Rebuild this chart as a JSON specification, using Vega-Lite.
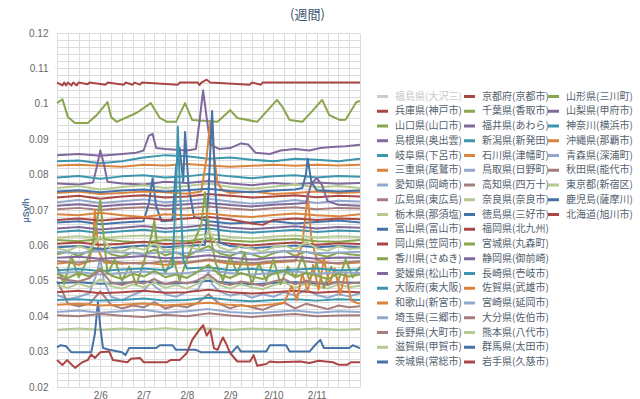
{
"$schema":"https://vega.github.io/schema/vega-lite/v6.json",
"width":303,"height":354,
"autosize":"none",
"padding":{"left":57,"top":33,"right":280,"bottom":12},
"background":"white",
"title":{"text":"(週間)","font":"Noto Sans CJK JP","fontSize":13,"fontWeight":"normal","color":"#3E576F","anchor":"middle","frame":"group","dx":99,"offset":6},
"config":{"view":{"stroke":null},"legend":{"orient":"none","symbolType":"stroke","symbolSize":122,"symbolStrokeWidth":3,"labelFont":"Noto Sans CJK JP","labelFontSize":10,"labelColor":"#55626f","labelOffset":5,"rowPadding":0.75,"labelLimit":300}},
"datasets":{
"names":[{"k":0,"s":"福島県(大沢三)"},{"k":1,"s":"兵庫県(神戸市)"},{"k":2,"s":"山口県(山口市)"},{"k":3,"s":"島根県(奥出雲)"},{"k":4,"s":"岐阜県(下呂市)"},{"k":5,"s":"三重県(尾鷲市)"},{"k":6,"s":"愛知県(岡崎市)"},{"k":7,"s":"広島県(東広島)"},{"k":8,"s":"栃木県(那須塩)"},{"k":9,"s":"富山県(富山市)"},{"k":10,"s":"岡山県(笠岡市)"},{"k":11,"s":"香川県(さぬき)"},{"k":12,"s":"愛媛県(松山市)"},{"k":13,"s":"大阪府(東大阪)"},{"k":14,"s":"和歌山(新宮市)"},{"k":15,"s":"埼玉県(三郷市)"},{"k":16,"s":"長野県(大町市)"},{"k":17,"s":"滋賀県(甲賀市)"},{"k":18,"s":"茨城県(常総市)"},{"k":19,"s":"京都府(京都市)"},{"k":20,"s":"千葉県(香取市)"},{"k":21,"s":"福井県(あわら)"},{"k":22,"s":"新潟県(新発田)"},{"k":23,"s":"石川県(津幡町)"},{"k":24,"s":"鳥取県(日野町)"},{"k":25,"s":"高知県(四万十)"},{"k":26,"s":"奈良県(奈良市)"},{"k":27,"s":"徳島県(三好市)"},{"k":28,"s":"福岡県(北九州)"},{"k":29,"s":"宮城県(丸森町)"},{"k":30,"s":"静岡県(御前崎)"},{"k":31,"s":"長崎県(壱岐市)"},{"k":32,"s":"佐賀県(武雄市)"},{"k":33,"s":"宮崎県(延岡市)"},{"k":34,"s":"大分県(佐伯市)"},{"k":35,"s":"熊本県(八代市)"},{"k":36,"s":"群馬県(太田市)"},{"k":37,"s":"岩手県(久慈市)"},{"k":38,"s":"山形県(三川町)"},{"k":39,"s":"山梨県(甲府市)"},{"k":40,"s":"神奈川(横浜市)"},{"k":41,"s":"沖縄県(那覇市)"},{"k":42,"s":"青森県(深浦町)"},{"k":43,"s":"秋田県(能代市)"},{"k":44,"s":"東京都(新宿区)"},{"k":45,"s":"鹿児島(薩摩川)"},{"k":46,"s":"北海道(旭川市)"}],
"pts":[
{"k":10,"h":0,"v":0.106},{"k":10,"h":3,"v":0.1052},{"k":10,"h":4,"v":0.106},{"k":10,"h":5,"v":0.1052},{"k":10,"h":6,"v":0.106},{"k":10,"h":8,"v":0.1052},{"k":10,"h":9,"v":0.106},{"k":10,"h":11,"v":0.1052},{"k":10,"h":12,"v":0.106},{"k":10,"h":17,"v":0.1055},{"k":10,"h":18,"v":0.106},{"k":10,"h":27,"v":0.1054},{"k":10,"h":28,"v":0.106},{"k":10,"h":37,"v":0.1054},{"k":10,"h":38,"v":0.106},{"k":10,"h":42,"v":0.1054},{"k":10,"h":43,"v":0.106},{"k":10,"h":46,"v":0.1054},{"k":10,"h":47,"v":0.106},{"k":10,"h":67,"v":0.1054},{"k":10,"h":68,"v":0.106},{"k":10,"h":78,"v":0.106},{"k":10,"h":79,"v":0.1053},{"k":10,"h":80,"v":0.106},{"k":10,"h":83,"v":0.1068},{"k":10,"h":85,"v":0.106},{"k":10,"h":107,"v":0.1054},{"k":10,"h":108,"v":0.106},{"k":10,"h":113,"v":0.1054},{"k":10,"h":114,"v":0.106},{"k":10,"h":168,"v":0.106},
{"k":2,"h":0,"v":0.1002},{"k":2,"h":3,"v":0.1013},{"k":2,"h":6,"v":0.0963},{"k":2,"h":10,"v":0.0946},{"k":2,"h":17,"v":0.0946},{"k":2,"h":22,"v":0.0968},{"k":2,"h":28,"v":0.1005},{"k":2,"h":30,"v":0.0963},{"k":2,"h":33,"v":0.0949},{"k":2,"h":44,"v":0.0974},{"k":2,"h":52,"v":0.1002},{"k":2,"h":57,"v":0.096},{"k":2,"h":61,"v":0.0949},{"k":2,"h":66,"v":0.0949},{"k":2,"h":71,"v":0.1002},{"k":2,"h":75,"v":0.0954},{"k":2,"h":89,"v":0.0949},{"k":2,"h":96,"v":0.0982},{"k":2,"h":100,"v":0.096},{"k":2,"h":111,"v":0.0949},{"k":2,"h":122,"v":0.1011},{"k":2,"h":125,"v":0.0991},{"k":2,"h":129,"v":0.0954},{"k":2,"h":136,"v":0.0949},{"k":2,"h":142,"v":0.0982},{"k":2,"h":147,"v":0.1011},{"k":2,"h":151,"v":0.0968},{"k":2,"h":157,"v":0.0954},{"k":2,"h":160,"v":0.0955},{"k":2,"h":166,"v":0.1005},{"k":2,"h":168,"v":0.1008},
{"k":3,"h":0,"v":0.0855},{"k":3,"h":12,"v":0.0858},{"k":3,"h":24,"v":0.0853},{"k":3,"h":36,"v":0.0858},{"k":3,"h":44,"v":0.0862},{"k":3,"h":48,"v":0.0868},{"k":3,"h":51,"v":0.091},{"k":3,"h":53,"v":0.0915},{"k":3,"h":55,"v":0.0875},{"k":3,"h":60,"v":0.0872},{"k":3,"h":66,"v":0.087},{"k":3,"h":72,"v":0.0868},{"k":3,"h":77,"v":0.0872},{"k":3,"h":79,"v":0.095},{"k":3,"h":81,"v":0.1038},{"k":3,"h":83,"v":0.096},{"k":3,"h":85,"v":0.0885},{"k":3,"h":90,"v":0.0872},{"k":3,"h":96,"v":0.0875},{"k":3,"h":102,"v":0.0888},{"k":3,"h":106,"v":0.0885},{"k":3,"h":110,"v":0.0862},{"k":3,"h":118,"v":0.0858},{"k":3,"h":124,"v":0.0868},{"k":3,"h":132,"v":0.0872},{"k":3,"h":140,"v":0.0868},{"k":3,"h":146,"v":0.0875},{"k":3,"h":152,"v":0.0878},{"k":3,"h":160,"v":0.088},{"k":3,"h":168,"v":0.0884},
{"k":4,"h":0,"v":0.0838},{"k":4,"h":12,"v":0.084},{"k":4,"h":24,"v":0.0832},{"k":4,"h":36,"v":0.0838},{"k":4,"h":48,"v":0.0848},{"k":4,"h":60,"v":0.0855},{"k":4,"h":72,"v":0.0852},{"k":4,"h":84,"v":0.0845},{"k":4,"h":96,"v":0.0848},{"k":4,"h":108,"v":0.0842},{"k":4,"h":120,"v":0.0838},{"k":4,"h":132,"v":0.0845},{"k":4,"h":144,"v":0.0842},{"k":4,"h":156,"v":0.0838},{"k":4,"h":168,"v":0.0845},
{"k":5,"h":0,"v":0.0826},{"k":5,"h":12,"v":0.0828},{"k":5,"h":24,"v":0.0825},{"k":5,"h":36,"v":0.0822},{"k":5,"h":48,"v":0.0828},{"k":5,"h":60,"v":0.0826},{"k":5,"h":72,"v":0.083},{"k":5,"h":84,"v":0.0826},{"k":5,"h":96,"v":0.0822},{"k":5,"h":108,"v":0.0825},{"k":5,"h":120,"v":0.0828},{"k":5,"h":132,"v":0.0825},{"k":5,"h":144,"v":0.0828},{"k":5,"h":156,"v":0.0826},{"k":5,"h":168,"v":0.0828},
{"k":22,"h":0,"v":0.0792},{"k":22,"h":12,"v":0.0796},{"k":22,"h":24,"v":0.0788},{"k":22,"h":36,"v":0.0795},{"k":22,"h":48,"v":0.0798},{"k":22,"h":60,"v":0.0792},{"k":22,"h":72,"v":0.0795},{"k":22,"h":84,"v":0.0802},{"k":22,"h":96,"v":0.0795},{"k":22,"h":108,"v":0.079},{"k":22,"h":120,"v":0.0795},{"k":22,"h":132,"v":0.0798},{"k":22,"h":144,"v":0.0792},{"k":22,"h":156,"v":0.0796},{"k":22,"h":168,"v":0.0794},
{"k":12,"h":0,"v":0.0775},{"k":12,"h":12,"v":0.0772},{"k":12,"h":20,"v":0.0778},{"k":12,"h":22,"v":0.082},{"k":12,"h":24,"v":0.0868},{"k":12,"h":26,"v":0.083},{"k":12,"h":28,"v":0.078},{"k":12,"h":36,"v":0.0775},{"k":12,"h":48,"v":0.0772},{"k":12,"h":60,"v":0.078},{"k":12,"h":72,"v":0.0776},{"k":12,"h":84,"v":0.0782},{"k":12,"h":96,"v":0.0775},{"k":12,"h":108,"v":0.077},{"k":12,"h":120,"v":0.0776},{"k":12,"h":132,"v":0.0772},{"k":12,"h":144,"v":0.0778},{"k":12,"h":156,"v":0.0774},{"k":12,"h":168,"v":0.0776},
{"k":8,"h":0,"v":0.0762},{"k":8,"h":12,"v":0.0768},{"k":8,"h":24,"v":0.0758},{"k":8,"h":36,"v":0.0765},{"k":8,"h":48,"v":0.077},{"k":8,"h":60,"v":0.0762},{"k":8,"h":72,"v":0.0768},{"k":8,"h":84,"v":0.0775},{"k":8,"h":96,"v":0.0765},{"k":8,"h":108,"v":0.076},{"k":8,"h":120,"v":0.0766},{"k":8,"h":132,"v":0.0772},{"k":8,"h":144,"v":0.0764},{"k":8,"h":156,"v":0.0768},{"k":8,"h":168,"v":0.0762},
{"k":45,"h":0,"v":0.0752},{"k":45,"h":12,"v":0.0756},{"k":45,"h":24,"v":0.075},{"k":45,"h":36,"v":0.0755},{"k":45,"h":48,"v":0.0758},{"k":45,"h":60,"v":0.0752},{"k":45,"h":72,"v":0.0756},{"k":45,"h":84,"v":0.076},{"k":45,"h":96,"v":0.0754},{"k":45,"h":108,"v":0.075},{"k":45,"h":120,"v":0.0755},{"k":45,"h":132,"v":0.0758},{"k":45,"h":136,"v":0.0762},{"k":45,"h":138,"v":0.08},{"k":45,"h":139,"v":0.0845},{"k":45,"h":141,"v":0.078},{"k":45,"h":144,"v":0.0756},{"k":45,"h":156,"v":0.0752},{"k":45,"h":168,"v":0.0755},
{"k":23,"h":0,"v":0.0748},{"k":23,"h":12,"v":0.0752},{"k":23,"h":24,"v":0.0745},{"k":23,"h":36,"v":0.0748},{"k":23,"h":48,"v":0.0752},{"k":23,"h":60,"v":0.075},{"k":23,"h":72,"v":0.0746},{"k":23,"h":80,"v":0.0752},{"k":23,"h":83,"v":0.085},{"k":23,"h":85,"v":0.095},{"k":23,"h":87,"v":0.086},{"k":23,"h":89,"v":0.0775},{"k":23,"h":92,"v":0.0755},{"k":23,"h":96,"v":0.0748},{"k":23,"h":108,"v":0.0752},{"k":23,"h":120,"v":0.0745},{"k":23,"h":132,"v":0.0748},{"k":23,"h":144,"v":0.0752},{"k":23,"h":156,"v":0.0748},{"k":23,"h":168,"v":0.075},
{"k":1,"h":0,"v":0.0735},{"k":1,"h":12,"v":0.074},{"k":1,"h":24,"v":0.0732},{"k":1,"h":36,"v":0.0738},{"k":1,"h":48,"v":0.0742},{"k":1,"h":60,"v":0.0735},{"k":1,"h":72,"v":0.0738},{"k":1,"h":84,"v":0.0745},{"k":1,"h":96,"v":0.074},{"k":1,"h":108,"v":0.0735},{"k":1,"h":120,"v":0.0738},{"k":1,"h":132,"v":0.0742},{"k":1,"h":144,"v":0.0736},{"k":1,"h":156,"v":0.074},{"k":1,"h":168,"v":0.0738},
{"k":6,"h":0,"v":0.0722},{"k":6,"h":12,"v":0.0728},{"k":6,"h":24,"v":0.072},{"k":6,"h":36,"v":0.0725},{"k":6,"h":48,"v":0.073},{"k":6,"h":60,"v":0.0722},{"k":6,"h":72,"v":0.0726},{"k":6,"h":84,"v":0.0732},{"k":6,"h":96,"v":0.0724},{"k":6,"h":108,"v":0.0718},{"k":6,"h":120,"v":0.0722},{"k":6,"h":132,"v":0.0728},{"k":6,"h":144,"v":0.072},{"k":6,"h":156,"v":0.0726},{"k":6,"h":168,"v":0.0724},
{"k":21,"h":0,"v":0.0712},{"k":21,"h":12,"v":0.0716},{"k":21,"h":24,"v":0.071},{"k":21,"h":36,"v":0.0715},{"k":21,"h":48,"v":0.0718},{"k":21,"h":60,"v":0.0712},{"k":21,"h":72,"v":0.0716},{"k":21,"h":84,"v":0.072},{"k":21,"h":96,"v":0.0714},{"k":21,"h":108,"v":0.071},{"k":21,"h":120,"v":0.0715},{"k":21,"h":132,"v":0.0718},{"k":21,"h":138,"v":0.072},{"k":21,"h":141,"v":0.0775},{"k":21,"h":144,"v":0.079},{"k":21,"h":147,"v":0.077},{"k":21,"h":150,"v":0.0725},{"k":21,"h":156,"v":0.0715},{"k":21,"h":168,"v":0.0712},
{"k":7,"h":0,"v":0.0702},{"k":7,"h":12,"v":0.0706},{"k":7,"h":24,"v":0.07},{"k":7,"h":36,"v":0.0705},{"k":7,"h":48,"v":0.0708},{"k":7,"h":60,"v":0.0702},{"k":7,"h":72,"v":0.0705},{"k":7,"h":84,"v":0.071},{"k":7,"h":96,"v":0.0704},{"k":7,"h":108,"v":0.07},{"k":7,"h":120,"v":0.0705},{"k":7,"h":132,"v":0.0708},{"k":7,"h":144,"v":0.0702},{"k":7,"h":156,"v":0.0706},{"k":7,"h":168,"v":0.0704},
{"k":41,"h":0,"v":0.0688},{"k":41,"h":12,"v":0.0685},{"k":41,"h":24,"v":0.0692},{"k":41,"h":36,"v":0.0685},{"k":41,"h":48,"v":0.068},{"k":41,"h":60,"v":0.0688},{"k":41,"h":72,"v":0.0685},{"k":41,"h":84,"v":0.069},{"k":41,"h":96,"v":0.0684},{"k":41,"h":108,"v":0.068},{"k":41,"h":120,"v":0.0686},{"k":41,"h":132,"v":0.069},{"k":41,"h":144,"v":0.0685},{"k":41,"h":156,"v":0.0682},{"k":41,"h":168,"v":0.0688},
{"k":19,"h":0,"v":0.0672},{"k":19,"h":12,"v":0.0676},{"k":19,"h":24,"v":0.067},{"k":19,"h":36,"v":0.0675},{"k":19,"h":48,"v":0.0678},{"k":19,"h":60,"v":0.0672},{"k":19,"h":72,"v":0.0676},{"k":19,"h":84,"v":0.068},{"k":19,"h":96,"v":0.0674},{"k":19,"h":108,"v":0.0662},{"k":19,"h":114,"v":0.0658},{"k":19,"h":120,"v":0.0672},{"k":19,"h":132,"v":0.0676},{"k":19,"h":144,"v":0.0672},{"k":19,"h":156,"v":0.0676},{"k":19,"h":168,"v":0.0674},
{"k":9,"h":0,"v":0.0665},{"k":9,"h":12,"v":0.0668},{"k":9,"h":24,"v":0.066},{"k":9,"h":36,"v":0.0665},{"k":9,"h":48,"v":0.0668},{"k":9,"h":51,"v":0.072},{"k":9,"h":53,"v":0.079},{"k":9,"h":55,"v":0.071},{"k":9,"h":58,"v":0.0668},{"k":9,"h":64,"v":0.067},{"k":9,"h":66,"v":0.082},{"k":9,"h":68,"v":0.0875},{"k":9,"h":70,"v":0.078},{"k":9,"h":71,"v":0.092},{"k":9,"h":73,"v":0.0765},{"k":9,"h":76,"v":0.068},{"k":9,"h":84,"v":0.0668},{"k":9,"h":96,"v":0.0662},{"k":9,"h":108,"v":0.0665},{"k":9,"h":120,"v":0.0668},{"k":9,"h":132,"v":0.0662},{"k":9,"h":144,"v":0.0666},{"k":9,"h":156,"v":0.067},{"k":9,"h":168,"v":0.0665},
{"k":30,"h":0,"v":0.0648},{"k":30,"h":12,"v":0.0652},{"k":30,"h":24,"v":0.0645},{"k":30,"h":36,"v":0.065},{"k":30,"h":48,"v":0.0655},{"k":30,"h":60,"v":0.0648},{"k":30,"h":72,"v":0.0652},{"k":30,"h":84,"v":0.0658},{"k":30,"h":96,"v":0.065},{"k":30,"h":108,"v":0.0646},{"k":30,"h":120,"v":0.065},{"k":30,"h":132,"v":0.0654},{"k":30,"h":144,"v":0.0648},{"k":30,"h":156,"v":0.0652},{"k":30,"h":168,"v":0.065},
{"k":13,"h":0,"v":0.0638},{"k":13,"h":12,"v":0.0642},{"k":13,"h":24,"v":0.0635},{"k":13,"h":36,"v":0.064},{"k":13,"h":48,"v":0.0644},{"k":13,"h":60,"v":0.0638},{"k":13,"h":72,"v":0.0642},{"k":13,"h":84,"v":0.0648},{"k":13,"h":96,"v":0.064},{"k":13,"h":108,"v":0.0636},{"k":13,"h":120,"v":0.064},{"k":13,"h":132,"v":0.0644},{"k":13,"h":144,"v":0.0638},{"k":13,"h":156,"v":0.0642},{"k":13,"h":168,"v":0.064},
{"k":26,"h":0,"v":0.0622},{"k":26,"h":12,"v":0.0626},{"k":26,"h":24,"v":0.062},{"k":26,"h":36,"v":0.0625},{"k":26,"h":48,"v":0.0628},{"k":26,"h":60,"v":0.0622},{"k":26,"h":72,"v":0.0625},{"k":26,"h":84,"v":0.0632},{"k":26,"h":96,"v":0.0624},{"k":26,"h":108,"v":0.062},{"k":26,"h":120,"v":0.0625},{"k":26,"h":132,"v":0.0628},{"k":26,"h":144,"v":0.0622},{"k":26,"h":156,"v":0.0626},{"k":26,"h":168,"v":0.0624},
{"k":29,"h":0,"v":0.0615},{"k":29,"h":12,"v":0.0612},{"k":29,"h":24,"v":0.0618},{"k":29,"h":36,"v":0.0612},{"k":29,"h":48,"v":0.0608},{"k":29,"h":60,"v":0.0615},{"k":29,"h":72,"v":0.0612},{"k":29,"h":84,"v":0.062},{"k":29,"h":96,"v":0.0614},{"k":29,"h":108,"v":0.061},{"k":29,"h":120,"v":0.0615},{"k":29,"h":132,"v":0.0618},{"k":29,"h":144,"v":0.0612},{"k":29,"h":156,"v":0.061},{"k":29,"h":168,"v":0.0615},
{"k":28,"h":0,"v":0.0605},{"k":28,"h":12,"v":0.0608},{"k":28,"h":24,"v":0.0602},{"k":28,"h":36,"v":0.0605},{"k":28,"h":48,"v":0.061},{"k":28,"h":60,"v":0.0604},{"k":28,"h":72,"v":0.0606},{"k":28,"h":84,"v":0.0612},{"k":28,"h":96,"v":0.0605},{"k":28,"h":108,"v":0.06},{"k":28,"h":120,"v":0.0605},{"k":28,"h":132,"v":0.0608},{"k":28,"h":144,"v":0.0602},{"k":28,"h":156,"v":0.0606},{"k":28,"h":168,"v":0.0604},
{"k":27,"h":0,"v":0.0595},{"k":27,"h":12,"v":0.0598},{"k":27,"h":24,"v":0.059},{"k":27,"h":36,"v":0.0595},{"k":27,"h":48,"v":0.06},{"k":27,"h":60,"v":0.0595},{"k":27,"h":72,"v":0.0598},{"k":27,"h":82,"v":0.0602},{"k":27,"h":84,"v":0.075},{"k":27,"h":86,"v":0.098},{"k":27,"h":88,"v":0.074},{"k":27,"h":90,"v":0.0608},{"k":27,"h":96,"v":0.0598},{"k":27,"h":108,"v":0.0592},{"k":27,"h":120,"v":0.0596},{"k":27,"h":132,"v":0.06},{"k":27,"h":144,"v":0.0595},{"k":27,"h":156,"v":0.0598},{"k":27,"h":168,"v":0.0595},
{"k":44,"h":0,"v":0.0592},{"k":44,"h":6,"v":0.0585},{"k":44,"h":12,"v":0.0598},{"k":44,"h":18,"v":0.0588},{"k":44,"h":24,"v":0.0625},{"k":44,"h":30,"v":0.059},{"k":44,"h":36,"v":0.0582},{"k":44,"h":42,"v":0.0595},{"k":44,"h":48,"v":0.0588},{"k":44,"h":54,"v":0.0605},{"k":44,"h":60,"v":0.0585},{"k":44,"h":66,"v":0.0592},{"k":44,"h":72,"v":0.0598},{"k":44,"h":78,"v":0.0588},{"k":44,"h":84,"v":0.064},{"k":44,"h":90,"v":0.0595},{"k":44,"h":96,"v":0.0585},{"k":44,"h":102,"v":0.0598},{"k":44,"h":108,"v":0.059},{"k":44,"h":114,"v":0.0582},{"k":44,"h":120,"v":0.0595},{"k":44,"h":126,"v":0.06},{"k":44,"h":132,"v":0.0588},{"k":44,"h":138,"v":0.061},{"k":44,"h":144,"v":0.0592},{"k":44,"h":150,"v":0.0585},{"k":44,"h":156,"v":0.0598},{"k":44,"h":162,"v":0.059},{"k":44,"h":168,"v":0.0592},
{"k":24,"h":0,"v":0.0582},{"k":24,"h":12,"v":0.0578},{"k":24,"h":24,"v":0.0585},{"k":24,"h":36,"v":0.058},{"k":24,"h":48,"v":0.0576},{"k":24,"h":60,"v":0.0582},{"k":24,"h":72,"v":0.0578},{"k":24,"h":84,"v":0.0588},{"k":24,"h":96,"v":0.058},{"k":24,"h":108,"v":0.0576},{"k":24,"h":120,"v":0.0582},{"k":24,"h":132,"v":0.0585},{"k":24,"h":144,"v":0.0578},{"k":24,"h":156,"v":0.058},{"k":24,"h":168,"v":0.0582},
{"k":11,"h":0,"v":0.0575},{"k":11,"h":6,"v":0.0582},{"k":11,"h":12,"v":0.057},{"k":11,"h":18,"v":0.0585},{"k":11,"h":24,"v":0.0592},{"k":11,"h":30,"v":0.0575},{"k":11,"h":36,"v":0.0568},{"k":11,"h":42,"v":0.058},{"k":11,"h":48,"v":0.0575},{"k":11,"h":54,"v":0.0588},{"k":11,"h":60,"v":0.0572},{"k":11,"h":66,"v":0.058},{"k":11,"h":72,"v":0.0568},{"k":11,"h":78,"v":0.0585},{"k":11,"h":84,"v":0.0598},{"k":11,"h":90,"v":0.0578},{"k":11,"h":96,"v":0.057},{"k":11,"h":102,"v":0.0582},{"k":11,"h":108,"v":0.0575},{"k":11,"h":114,"v":0.0565},{"k":11,"h":120,"v":0.0578},{"k":11,"h":126,"v":0.0585},{"k":11,"h":132,"v":0.057},{"k":11,"h":138,"v":0.0582},{"k":11,"h":144,"v":0.0575},{"k":11,"h":150,"v":0.0568},{"k":11,"h":156,"v":0.058},{"k":11,"h":162,"v":0.0575},{"k":11,"h":168,"v":0.0572},
{"k":39,"h":0,"v":0.0565},{"k":39,"h":12,"v":0.0568},{"k":39,"h":24,"v":0.0562},{"k":39,"h":36,"v":0.0566},{"k":39,"h":48,"v":0.057},{"k":39,"h":60,"v":0.0564},{"k":39,"h":72,"v":0.0566},{"k":39,"h":84,"v":0.0572},{"k":39,"h":96,"v":0.0565},{"k":39,"h":108,"v":0.056},{"k":39,"h":120,"v":0.0565},{"k":39,"h":132,"v":0.0568},{"k":39,"h":144,"v":0.0562},{"k":39,"h":156,"v":0.0566},{"k":39,"h":168,"v":0.0565},
{"k":25,"h":0,"v":0.0555},{"k":25,"h":12,"v":0.0552},{"k":25,"h":24,"v":0.0558},{"k":25,"h":36,"v":0.0552},{"k":25,"h":48,"v":0.0548},{"k":25,"h":60,"v":0.0555},{"k":25,"h":72,"v":0.0552},{"k":25,"h":84,"v":0.056},{"k":25,"h":96,"v":0.0554},{"k":25,"h":108,"v":0.055},{"k":25,"h":120,"v":0.0555},{"k":25,"h":132,"v":0.0558},{"k":25,"h":144,"v":0.0552},{"k":25,"h":156,"v":0.055},{"k":25,"h":168,"v":0.0555},
{"k":14,"h":0,"v":0.0548},{"k":14,"h":6,"v":0.0552},{"k":14,"h":12,"v":0.0545},{"k":14,"h":18,"v":0.0555},{"k":14,"h":20,"v":0.062},{"k":14,"h":21,"v":0.07},{"k":14,"h":23,"v":0.0585},{"k":14,"h":26,"v":0.0552},{"k":14,"h":36,"v":0.0548},{"k":14,"h":48,"v":0.0552},{"k":14,"h":60,"v":0.0545},{"k":14,"h":72,"v":0.055},{"k":14,"h":84,"v":0.0558},{"k":14,"h":96,"v":0.0548},{"k":14,"h":108,"v":0.0545},{"k":14,"h":120,"v":0.0552},{"k":14,"h":132,"v":0.0555},{"k":14,"h":136,"v":0.06},{"k":14,"h":139,"v":0.0745},{"k":14,"h":141,"v":0.062},{"k":14,"h":144,"v":0.0558},{"k":14,"h":150,"v":0.0552},{"k":14,"h":156,"v":0.0548},{"k":14,"h":168,"v":0.0552},
{"k":40,"h":0,"v":0.053},{"k":40,"h":12,"v":0.0533},{"k":40,"h":24,"v":0.0528},{"k":40,"h":36,"v":0.0532},{"k":40,"h":48,"v":0.0535},{"k":40,"h":60,"v":0.053},{"k":40,"h":64,"v":0.054},{"k":40,"h":66,"v":0.075},{"k":40,"h":67,"v":0.0935},{"k":40,"h":68,"v":0.078},{"k":40,"h":70,"v":0.056},{"k":40,"h":72,"v":0.0535},{"k":40,"h":84,"v":0.0538},{"k":40,"h":96,"v":0.053},{"k":40,"h":108,"v":0.0534},{"k":40,"h":120,"v":0.0528},{"k":40,"h":132,"v":0.0532},{"k":40,"h":144,"v":0.0535},{"k":40,"h":156,"v":0.053},{"k":40,"h":168,"v":0.0532},
{"k":42,"h":0,"v":0.0522},{"k":42,"h":12,"v":0.0525},{"k":42,"h":24,"v":0.0518},{"k":42,"h":36,"v":0.0522},{"k":42,"h":48,"v":0.0526},{"k":42,"h":60,"v":0.052},{"k":42,"h":72,"v":0.0522},{"k":42,"h":84,"v":0.053},{"k":42,"h":96,"v":0.0522},{"k":42,"h":108,"v":0.0518},{"k":42,"h":120,"v":0.0522},{"k":42,"h":132,"v":0.0526},{"k":42,"h":144,"v":0.052},{"k":42,"h":156,"v":0.0524},{"k":42,"h":168,"v":0.0522},
{"k":38,"h":0,"v":0.052},{"k":38,"h":6,"v":0.0508},{"k":38,"h":12,"v":0.0522},{"k":38,"h":18,"v":0.0512},{"k":38,"h":24,"v":0.0535},{"k":38,"h":30,"v":0.0515},{"k":38,"h":36,"v":0.0505},{"k":38,"h":42,"v":0.052},{"k":38,"h":48,"v":0.0512},{"k":38,"h":54,"v":0.0528},{"k":38,"h":60,"v":0.051},{"k":38,"h":66,"v":0.0518},{"k":38,"h":72,"v":0.0508},{"k":38,"h":78,"v":0.0525},{"k":38,"h":84,"v":0.0545},{"k":38,"h":90,"v":0.0518},{"k":38,"h":96,"v":0.0508},{"k":38,"h":102,"v":0.0522},{"k":38,"h":108,"v":0.0512},{"k":38,"h":114,"v":0.0505},{"k":38,"h":120,"v":0.052},{"k":38,"h":126,"v":0.0528},{"k":38,"h":132,"v":0.051},{"k":38,"h":138,"v":0.0522},{"k":38,"h":144,"v":0.0515},{"k":38,"h":150,"v":0.0505},{"k":38,"h":156,"v":0.052},{"k":38,"h":162,"v":0.0512},{"k":38,"h":168,"v":0.0518},
{"k":43,"h":0,"v":0.051},{"k":43,"h":6,"v":0.0502},{"k":43,"h":12,"v":0.0498},{"k":43,"h":18,"v":0.0508},{"k":43,"h":24,"v":0.053},{"k":43,"h":30,"v":0.0495},{"k":43,"h":36,"v":0.0488},{"k":43,"h":42,"v":0.0498},{"k":43,"h":48,"v":0.0492},{"k":43,"h":54,"v":0.0505},{"k":43,"h":60,"v":0.049},{"k":43,"h":66,"v":0.0498},{"k":43,"h":72,"v":0.0492},{"k":43,"h":78,"v":0.0502},{"k":43,"h":84,"v":0.0518},{"k":43,"h":90,"v":0.0495},{"k":43,"h":96,"v":0.0488},{"k":43,"h":102,"v":0.0498},{"k":43,"h":108,"v":0.0492},{"k":43,"h":114,"v":0.0486},{"k":43,"h":120,"v":0.0498},{"k":43,"h":126,"v":0.0505},{"k":43,"h":132,"v":0.049},{"k":43,"h":138,"v":0.05},{"k":43,"h":144,"v":0.0495},{"k":43,"h":150,"v":0.0488},{"k":43,"h":156,"v":0.0498},{"k":43,"h":162,"v":0.0492},{"k":43,"h":168,"v":0.0496},
{"k":36,"h":0,"v":0.0494},{"k":36,"h":12,"v":0.0496},{"k":36,"h":24,"v":0.0492},{"k":36,"h":36,"v":0.0494},{"k":36,"h":48,"v":0.0498},{"k":36,"h":60,"v":0.0492},{"k":36,"h":72,"v":0.0494},{"k":36,"h":84,"v":0.05},{"k":36,"h":96,"v":0.0494},{"k":36,"h":108,"v":0.049},{"k":36,"h":120,"v":0.0494},{"k":36,"h":132,"v":0.0496},{"k":36,"h":144,"v":0.0492},{"k":36,"h":156,"v":0.0496},{"k":36,"h":168,"v":0.0494},
{"k":35,"h":0,"v":0.0488},{"k":35,"h":6,"v":0.048},{"k":35,"h":12,"v":0.0492},{"k":35,"h":18,"v":0.0482},{"k":35,"h":24,"v":0.0505},{"k":35,"h":30,"v":0.0485},{"k":35,"h":36,"v":0.0478},{"k":35,"h":42,"v":0.049},{"k":35,"h":48,"v":0.0482},{"k":35,"h":54,"v":0.0495},{"k":35,"h":60,"v":0.048},{"k":35,"h":66,"v":0.0488},{"k":35,"h":72,"v":0.0478},{"k":35,"h":78,"v":0.0492},{"k":35,"h":84,"v":0.051},{"k":35,"h":90,"v":0.0488},{"k":35,"h":96,"v":0.0478},{"k":35,"h":102,"v":0.049},{"k":35,"h":108,"v":0.0482},{"k":35,"h":114,"v":0.0476},{"k":35,"h":120,"v":0.0488},{"k":35,"h":126,"v":0.0495},{"k":35,"h":132,"v":0.048},{"k":35,"h":138,"v":0.0492},{"k":35,"h":144,"v":0.0485},{"k":35,"h":150,"v":0.0478},{"k":35,"h":156,"v":0.049},{"k":35,"h":162,"v":0.0482},{"k":35,"h":168,"v":0.0486},
{"k":20,"h":0,"v":0.054},{"k":20,"h":4,"v":0.049},{"k":20,"h":8,"v":0.057},{"k":20,"h":12,"v":0.051},{"k":20,"h":16,"v":0.055},{"k":20,"h":20,"v":0.06},{"k":20,"h":22,"v":0.066},{"k":20,"h":24,"v":0.073},{"k":20,"h":26,"v":0.062},{"k":20,"h":28,"v":0.052},{"k":20,"h":32,"v":0.056},{"k":20,"h":36,"v":0.05},{"k":20,"h":40,"v":0.054},{"k":20,"h":44,"v":0.049},{"k":20,"h":48,"v":0.055},{"k":20,"h":52,"v":0.062},{"k":20,"h":54,"v":0.067},{"k":20,"h":56,"v":0.058},{"k":20,"h":60,"v":0.052},{"k":20,"h":64,"v":0.057},{"k":20,"h":68,"v":0.05},{"k":20,"h":72,"v":0.056},{"k":20,"h":76,"v":0.061},{"k":20,"h":80,"v":0.066},{"k":20,"h":82,"v":0.075},{"k":20,"h":84,"v":0.065},{"k":20,"h":88,"v":0.055},{"k":20,"h":92,"v":0.05},{"k":20,"h":96,"v":0.057},{"k":20,"h":100,"v":0.052},{"k":20,"h":104,"v":0.058},{"k":20,"h":108,"v":0.049},{"k":20,"h":112,"v":0.055},{"k":20,"h":116,"v":0.05},{"k":20,"h":120,"v":0.056},{"k":20,"h":124,"v":0.049},{"k":20,"h":128,"v":0.054},{"k":20,"h":132,"v":0.051},{"k":20,"h":136,"v":0.057},{"k":20,"h":140,"v":0.05},{"k":20,"h":144,"v":0.055},{"k":20,"h":148,"v":0.048},{"k":20,"h":152,"v":0.054},{"k":20,"h":156,"v":0.05},{"k":20,"h":160,"v":0.056},{"k":20,"h":164,"v":0.051},{"k":20,"h":168,"v":0.054},
{"k":37,"h":0,"v":0.0468},{"k":37,"h":12,"v":0.0472},{"k":37,"h":24,"v":0.0465},{"k":37,"h":36,"v":0.0468},{"k":37,"h":48,"v":0.0472},{"k":37,"h":60,"v":0.0466},{"k":37,"h":72,"v":0.0468},{"k":37,"h":84,"v":0.0475},{"k":37,"h":96,"v":0.0468},{"k":37,"h":108,"v":0.0464},{"k":37,"h":120,"v":0.0468},{"k":37,"h":132,"v":0.0472},{"k":37,"h":144,"v":0.0466},{"k":37,"h":156,"v":0.047},{"k":37,"h":168,"v":0.0468},
{"k":15,"h":0,"v":0.046},{"k":15,"h":6,"v":0.0448},{"k":15,"h":12,"v":0.0455},{"k":15,"h":18,"v":0.0465},{"k":15,"h":22,"v":0.052},{"k":15,"h":24,"v":0.0565},{"k":15,"h":26,"v":0.05},{"k":15,"h":30,"v":0.0455},{"k":15,"h":36,"v":0.0445},{"k":15,"h":42,"v":0.046},{"k":15,"h":48,"v":0.0472},{"k":15,"h":52,"v":0.0495},{"k":15,"h":54,"v":0.0485},{"k":15,"h":60,"v":0.0462},{"k":15,"h":66,"v":0.0455},{"k":15,"h":72,"v":0.0468},{"k":15,"h":78,"v":0.0475},{"k":15,"h":82,"v":0.051},{"k":15,"h":84,"v":0.0525},{"k":15,"h":86,"v":0.049},{"k":15,"h":90,"v":0.047},{"k":15,"h":96,"v":0.0458},{"k":15,"h":102,"v":0.0465},{"k":15,"h":108,"v":0.0452},{"k":15,"h":114,"v":0.0462},{"k":15,"h":120,"v":0.0455},{"k":15,"h":126,"v":0.0468},{"k":15,"h":132,"v":0.0458},{"k":15,"h":138,"v":0.0475},{"k":15,"h":144,"v":0.046},{"k":15,"h":150,"v":0.0452},{"k":15,"h":156,"v":0.0462},{"k":15,"h":162,"v":0.0456},{"k":15,"h":168,"v":0.0465},
{"k":31,"h":0,"v":0.0446},{"k":31,"h":12,"v":0.0448},{"k":31,"h":24,"v":0.0444},{"k":31,"h":36,"v":0.0446},{"k":31,"h":48,"v":0.045},{"k":31,"h":60,"v":0.0444},{"k":31,"h":72,"v":0.0446},{"k":31,"h":84,"v":0.0452},{"k":31,"h":96,"v":0.0446},{"k":31,"h":108,"v":0.0442},{"k":31,"h":120,"v":0.0446},{"k":31,"h":132,"v":0.0448},{"k":31,"h":144,"v":0.0444},{"k":31,"h":156,"v":0.0448},{"k":31,"h":168,"v":0.0446},
{"k":32,"h":0,"v":0.0432},{"k":32,"h":12,"v":0.0435},{"k":32,"h":24,"v":0.043},{"k":32,"h":36,"v":0.0432},{"k":32,"h":48,"v":0.0436},{"k":32,"h":60,"v":0.043},{"k":32,"h":72,"v":0.0434},{"k":32,"h":84,"v":0.0438},{"k":32,"h":96,"v":0.0432},{"k":32,"h":108,"v":0.0428},{"k":32,"h":120,"v":0.0434},{"k":32,"h":126,"v":0.0438},{"k":32,"h":130,"v":0.0485},{"k":32,"h":133,"v":0.0445},{"k":32,"h":136,"v":0.052},{"k":32,"h":139,"v":0.047},{"k":32,"h":142,"v":0.0545},{"k":32,"h":145,"v":0.0475},{"k":32,"h":148,"v":0.056},{"k":32,"h":151,"v":0.049},{"k":32,"h":154,"v":0.0535},{"k":32,"h":157,"v":0.0462},{"k":32,"h":160,"v":0.0525},{"k":32,"h":163,"v":0.0445},{"k":32,"h":166,"v":0.0438},{"k":32,"h":168,"v":0.0435},
{"k":16,"h":0,"v":0.0498},{"k":16,"h":3,"v":0.047},{"k":16,"h":6,"v":0.0435},{"k":16,"h":12,"v":0.0428},{"k":16,"h":18,"v":0.0435},{"k":16,"h":24,"v":0.047},{"k":16,"h":30,"v":0.0432},{"k":16,"h":36,"v":0.0422},{"k":16,"h":42,"v":0.043},{"k":16,"h":48,"v":0.0425},{"k":16,"h":54,"v":0.044},{"k":16,"h":60,"v":0.0422},{"k":16,"h":66,"v":0.043},{"k":16,"h":72,"v":0.0425},{"k":16,"h":78,"v":0.0438},{"k":16,"h":84,"v":0.0462},{"k":16,"h":90,"v":0.0435},{"k":16,"h":96,"v":0.0422},{"k":16,"h":102,"v":0.0432},{"k":16,"h":108,"v":0.0425},{"k":16,"h":114,"v":0.0418},{"k":16,"h":120,"v":0.043},{"k":16,"h":126,"v":0.0438},{"k":16,"h":132,"v":0.0422},{"k":16,"h":138,"v":0.0435},{"k":16,"h":144,"v":0.0428},{"k":16,"h":150,"v":0.042},{"k":16,"h":156,"v":0.043},{"k":16,"h":162,"v":0.0425},{"k":16,"h":168,"v":0.0428},
{"k":33,"h":0,"v":0.0412},{"k":33,"h":12,"v":0.0416},{"k":33,"h":24,"v":0.041},{"k":33,"h":36,"v":0.0414},{"k":33,"h":48,"v":0.0418},{"k":33,"h":60,"v":0.041},{"k":33,"h":72,"v":0.0414},{"k":33,"h":84,"v":0.042},{"k":33,"h":96,"v":0.0412},{"k":33,"h":108,"v":0.0408},{"k":33,"h":120,"v":0.0412},{"k":33,"h":132,"v":0.0416},{"k":33,"h":144,"v":0.041},{"k":33,"h":156,"v":0.0414},{"k":33,"h":168,"v":0.0412},
{"k":34,"h":0,"v":0.0403},{"k":34,"h":12,"v":0.04},{"k":34,"h":24,"v":0.0406},{"k":34,"h":36,"v":0.0401},{"k":34,"h":48,"v":0.0398},{"k":34,"h":60,"v":0.0404},{"k":34,"h":72,"v":0.04},{"k":34,"h":84,"v":0.0408},{"k":34,"h":96,"v":0.0402},{"k":34,"h":108,"v":0.0398},{"k":34,"h":120,"v":0.0403},{"k":34,"h":132,"v":0.0406},{"k":34,"h":144,"v":0.04},{"k":34,"h":156,"v":0.0402},{"k":34,"h":168,"v":0.0403},
{"k":17,"h":0,"v":0.0362},{"k":17,"h":12,"v":0.0365},{"k":17,"h":24,"v":0.0362},{"k":17,"h":36,"v":0.0365},{"k":17,"h":48,"v":0.0362},{"k":17,"h":60,"v":0.0366},{"k":17,"h":72,"v":0.0362},{"k":17,"h":84,"v":0.0365},{"k":17,"h":96,"v":0.0362},{"k":17,"h":108,"v":0.0365},{"k":17,"h":120,"v":0.0364},{"k":17,"h":132,"v":0.0362},{"k":17,"h":144,"v":0.0365},{"k":17,"h":156,"v":0.0362},{"k":17,"h":168,"v":0.0364},
{"k":18,"h":0,"v":0.0312},{"k":18,"h":2,"v":0.0318},{"k":18,"h":5,"v":0.0315},{"k":18,"h":8,"v":0.0298},{"k":18,"h":19,"v":0.0298},{"k":18,"h":21,"v":0.035},{"k":18,"h":22.7,"v":0.044},{"k":18,"h":24,"v":0.037},{"k":18,"h":25.5,"v":0.031},{"k":18,"h":29,"v":0.0305},{"k":18,"h":36,"v":0.0298},{"k":18,"h":38,"v":0.029},{"k":18,"h":40,"v":0.031},{"k":18,"h":55,"v":0.031},{"k":18,"h":57,"v":0.0318},{"k":18,"h":64,"v":0.0318},{"k":18,"h":66,"v":0.0305},{"k":18,"h":77,"v":0.0305},{"k":18,"h":80,"v":0.0298},{"k":18,"h":97,"v":0.0298},{"k":18,"h":100,"v":0.0315},{"k":18,"h":102,"v":0.03},{"k":18,"h":116,"v":0.03},{"k":18,"h":118,"v":0.0318},{"k":18,"h":127,"v":0.0318},{"k":18,"h":129,"v":0.03},{"k":18,"h":140,"v":0.03},{"k":18,"h":143,"v":0.0318},{"k":18,"h":146,"v":0.0333},{"k":18,"h":148,"v":0.031},{"k":18,"h":162,"v":0.031},{"k":18,"h":164,"v":0.0318},{"k":18,"h":168,"v":0.031},
{"k":46,"h":0,"v":0.0276},{"k":46,"h":3,"v":0.0262},{"k":46,"h":5.5,"v":0.0276},{"k":46,"h":10,"v":0.0254},{"k":46,"h":14,"v":0.027},{"k":46,"h":17,"v":0.0276},{"k":46,"h":19,"v":0.0292},{"k":46,"h":21,"v":0.0282},{"k":46,"h":24,"v":0.0298},{"k":46,"h":29,"v":0.03},{"k":46,"h":31,"v":0.0276},{"k":46,"h":39,"v":0.027},{"k":46,"h":41,"v":0.028},{"k":46,"h":46,"v":0.0282},{"k":46,"h":48,"v":0.027},{"k":46,"h":61,"v":0.027},{"k":46,"h":63,"v":0.0276},{"k":46,"h":68,"v":0.0276},{"k":46,"h":72,"v":0.0296},{"k":46,"h":75,"v":0.0333},{"k":46,"h":78,"v":0.0355},{"k":46,"h":81,"v":0.0375},{"k":46,"h":83,"v":0.0345},{"k":46,"h":85,"v":0.0362},{"k":46,"h":87,"v":0.031},{"k":46,"h":89,"v":0.0305},{"k":46,"h":92,"v":0.034},{"k":46,"h":94,"v":0.032},{"k":46,"h":96,"v":0.0296},{"k":46,"h":100,"v":0.0272},{"k":46,"h":107,"v":0.0272},{"k":46,"h":109,"v":0.029},{"k":46,"h":111,"v":0.026},{"k":46,"h":116,"v":0.0265},{"k":46,"h":118,"v":0.0272},{"k":46,"h":122,"v":0.027},{"k":46,"h":135,"v":0.0272},{"k":46,"h":140,"v":0.0268},{"k":46,"h":145,"v":0.0274},{"k":46,"h":153,"v":0.027},{"k":46,"h":156,"v":0.0263},{"k":46,"h":161,"v":0.0263},{"k":46,"h":163,"v":0.027},{"k":46,"h":168,"v":0.027}
]},
"encoding":{
"x":{"field":"h","type":"quantitative","scale":{"domain":[0,168],"nice":false,"zero":false},"axis":{"title":null,"values":[0,6,12,18,24,30,36,42,48,54,60,66,72,78,84,90,96,102,108,114,120,126,132,138,144,150,156,162,168],"labelExpr":"datum.value % 24 == 0 && datum.value > 0 && datum.value < 168 ? '2/' + (5 + datum.value / 24) : ''","grid":true,"gridColor":"#dcdcdc","ticks":false,"domain":false,"labelFont":"Liberation Sans","labelFontSize":10,"labelColor":"#666666","labelPadding":3,"labelOverlap":false,"labelFlush":false}},
"y":{"field":"v","type":"quantitative","scale":{"domain":[0.02,0.12],"nice":false,"zero":false},"axis":{"title":"μSv/h","titleColor":"#4D759E","titleFont":"Liberation Sans","titleFontSize":9,"titleFontWeight":"bold","titlePadding":-2,"values":[0.02,0.022,0.024,0.026,0.028,0.03,0.032,0.034,0.036,0.038,0.04,0.042,0.044,0.046,0.048,0.05,0.052,0.054,0.056,0.058,0.06,0.062,0.064,0.066,0.068,0.07,0.072,0.074,0.076,0.078,0.08,0.082,0.084,0.086,0.088,0.09,0.092,0.094,0.096,0.098,0.1,0.102,0.104,0.106,0.108,0.11,0.112,0.114,0.116,0.118,0.12],"labelExpr":"round(datum.value * 1000) % 10 == 0 ? format(datum.value, '.2~f') : ''","grid":true,"gridColor":"#dcdcdc","ticks":false,"domain":false,"labelFont":"Liberation Sans","labelFontSize":10,"labelColor":"#666666","labelPadding":9,"labelOverlap":false,"labelFlush":false}}
},
"layer":[
{"data":{"name":"pts"},"transform":[{"filter":"datum.k <= 18"},{"lookup":"k","from":{"data":{"name":"names"},"key":"k","fields":["s"]}}],
"mark":{"type":"line","strokeWidth":2,"strokeJoin":"round"},
"encoding":{"color":{"field":"s","type":"nominal","scale":{"domain":["福島県(大沢三)","兵庫県(神戸市)","山口県(山口市)","島根県(奥出雲)","岐阜県(下呂市)","三重県(尾鷲市)","愛知県(岡崎市)","広島県(東広島)","栃木県(那須塩)","富山県(富山市)","岡山県(笠岡市)","香川県(さぬき)","愛媛県(松山市)","大阪府(東大阪)","和歌山(新宮市)","埼玉県(三郷市)","長野県(大町市)","滋賀県(甲賀市)","茨城県(常総市)"],"range":["#CCCCCC","#AA4643","#89A54E","#80699B","#3D96AE","#DB843D","#92A8CD","#A47D7C","#B5CA92","#4572A7","#AA4643","#89A54E","#80699B","#3D96AE","#DB843D","#92A8CD","#A47D7C","#B5CA92","#4572A7"]},"legend":{"title":null,"orient":"none","legendX":318,"legendY":56,"rowPadding":0.75,"symbolSize":122,"encode":{"labels":{"update":{"fill":{"signal":"datum.value == '福島県(大沢三)' ? '#c8c8c8' : '#55626f'"}}}}}}}},
{"data":{"name":"pts"},"transform":[{"filter":"datum.k >= 19 && datum.k <= 37"},{"lookup":"k","from":{"data":{"name":"names"},"key":"k","fields":["s"]}}],
"mark":{"type":"line","strokeWidth":2,"strokeJoin":"round"},
"encoding":{"color":{"field":"s","type":"nominal","scale":{"domain":["京都府(京都市)","千葉県(香取市)","福井県(あわら)","新潟県(新発田)","石川県(津幡町)","鳥取県(日野町)","高知県(四万十)","奈良県(奈良市)","徳島県(三好市)","福岡県(北九州)","宮城県(丸森町)","静岡県(御前崎)","長崎県(壱岐市)","佐賀県(武雄市)","宮崎県(延岡市)","大分県(佐伯市)","熊本県(八代市)","群馬県(太田市)","岩手県(久慈市)"],"range":["#AA4643","#89A54E","#80699B","#3D96AE","#DB843D","#92A8CD","#A47D7C","#B5CA92","#4572A7","#AA4643","#89A54E","#80699B","#3D96AE","#DB843D","#92A8CD","#A47D7C","#B5CA92","#4572A7","#AA4643"]},"legend":{"title":null,"orient":"none","legendX":405,"legendY":56,"rowPadding":0.75,"symbolSize":122}}}},
{"data":{"name":"pts"},"transform":[{"filter":"datum.k >= 38"},{"lookup":"k","from":{"data":{"name":"names"},"key":"k","fields":["s"]}}],
"mark":{"type":"line","strokeWidth":2,"strokeJoin":"round"},
"encoding":{"color":{"field":"s","type":"nominal","scale":{"domain":["山形県(三川町)","山梨県(甲府市)","神奈川(横浜市)","沖縄県(那覇市)","青森県(深浦町)","秋田県(能代市)","東京都(新宿区)","鹿児島(薩摩川)","北海道(旭川市)"],"range":["#89A54E","#80699B","#3D96AE","#DB843D","#92A8CD","#A47D7C","#B5CA92","#4572A7","#AA4643"]},"legend":{"title":null,"orient":"none","legendX":489,"legendY":56,"rowPadding":0.75,"symbolSize":122}}}}
],
"resolve":{"scale":{"color":"independent"}}
}
